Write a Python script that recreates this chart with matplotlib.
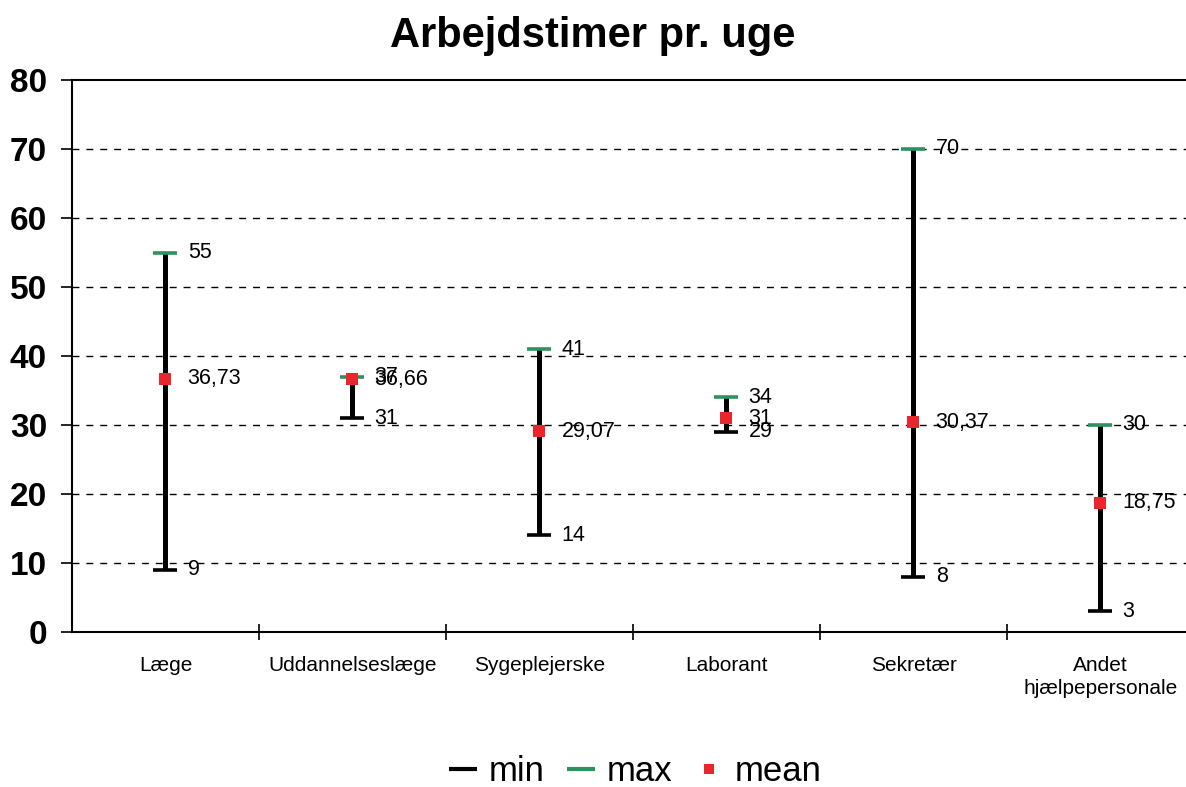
import matplotlib
matplotlib.use("Agg")
import matplotlib.pyplot as plt
from matplotlib.lines import Line2D

plt.rcParams['font.family'] = ['Liberation Sans', 'DejaVu Sans']

categories = ["Læge", "Uddannelseslæge", "Sygeplejerske", "Laborant", "Sekretær",
              "Andet\nhjælpepersonale"]
min_vals = [9, 31, 14, 29, 8, 3]
max_vals = [55, 37, 41, 34, 70, 30]
mean_vals = [36.73, 36.66, 29.07, 31, 30.37, 18.75]
mean_labels = ["36,73", "36,66", "29,07", "31", "30,37", "18,75"]
y_ticks = [0, 10, 20, 30, 40, 50, 60, 70, 80]

GREEN = "#2E9160"
RED = "#E8262B"

fig = plt.figure(figsize=(11.86, 7.87), dpi=100)
ax = fig.add_axes([72 / 1186, 1 - 632 / 787, 1122 / 1186, 552 / 787])

x = list(range(len(categories)))

# range bars
ax.vlines(x, min_vals, max_vals, colors="black", linewidth=3.6, zorder=3)
ax.plot(x, min_vals, linestyle="none", marker="_", markersize=17, mew=2.6,
        color="black", zorder=4)
ax.plot(x, max_vals, linestyle="none", marker="_", markersize=17, mew=2.6,
        color=GREEN, zorder=4)
ax.plot(x, mean_vals, linestyle="none", marker="s", markersize=8.5, mew=0,
        color=RED, zorder=5)

for xi, lo, hi, mv, ml in zip(x, min_vals, max_vals, mean_vals, mean_labels):
    for val, txt in ((lo, str(lo)), (hi, str(hi)), (mv, ml)):
        ax.annotate(txt, (xi, val), xytext=(16, 0), textcoords="offset points",
                    ha="left", va="center", fontsize=15.5, color="black", zorder=6)

ax.set_xlim(-0.5, len(categories) - 0.5)
ax.set_ylim(0, 80)
ax.set_yticks(y_ticks)
ax.set_yticklabels([str(t) for t in y_ticks], fontsize=24, fontweight="bold")
ax.tick_params(axis="y", direction="out", length=8, width=1.2, pad=10)

ax.set_xticks(x)
ax.set_xticklabels(categories, fontsize=15, linespacing=1.3)
ax.tick_params(axis="x", which="major", length=0, pad=17)
ax.set_xticks([i + 0.5 for i in x[:-1]], minor=True)
ax.tick_params(axis="x", which="minor", direction="inout", length=12, width=1.2)

for t in y_ticks[1:-1]:
    ax.axhline(t, color="black", linestyle=(0, (5, 5)), linewidth=1, zorder=1)

for side in ("left", "bottom", "top"):
    ax.spines[side].set_linewidth(1.5)
ax.spines["right"].set_visible(False)

fig.suptitle("Arbejdstimer pr. uge", fontsize=30, fontweight="bold", y=0.98)

handles = [
    Line2D([], [], linestyle="none", marker="_", markersize=20, mew=3, color="black"),
    Line2D([], [], linestyle="none", marker="_", markersize=20, mew=3, color=GREEN),
    Line2D([], [], linestyle="none", marker="s", markersize=7, mew=0, color=RED),
]
fig.legend(handles, ["min", "max", "mean"], loc="center", bbox_to_anchor=(0.535, 0.02),
           ncol=3, frameon=False, fontsize=25, handlelength=0.9, handletextpad=0.3,
           columnspacing=0.6)

fig.savefig("out.png", dpi=100)
